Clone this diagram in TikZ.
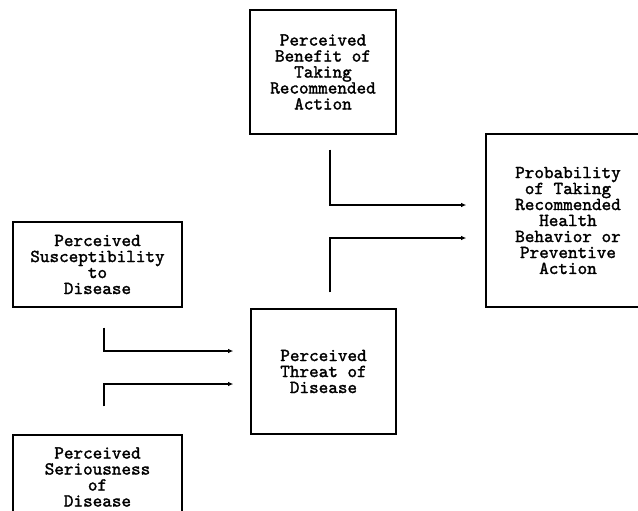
\documentclass[tikz,border=0pt]{standalone}
\usepackage{fontspec}
\setmonofont[AutoFakeBold=1.6]{Latin Modern Mono}
\usetikzlibrary{arrows.meta}

\begin{document}
\begin{tikzpicture}[x=0.02cm, y=-0.02cm, >={Latex[length=3pt,width=2.6pt]},
    box/.style={draw, line width=0.8pt, inner sep=0pt, align=center,
        font=\ttfamily\bfseries\fontsize{10.4}{9.1}\selectfont},
    flow/.style={->, line width=0.6pt}]
        \useasboundingbox (0,0) rectangle (638,510);
        \clip (0,0) rectangle (638,510);
        % ==== BOXES ====
        \node[box, minimum width=2.92cm, minimum height=2.48cm] (benefit) at (323,72)
            {Perceived\\Benefit of\\Taking\\Recommended\\Action};
        \node[box, minimum width=3.28cm, minimum height=3.46cm] (prob) at (568,220.5)
            {Probability\\of Taking\\Recommended\\Health\\Behavior or\\Preventive\\Action};
        \node[box, minimum width=3.38cm, minimum height=1.70cm] (suscept) at (97.5,264.5)
            {Perceived\\Susceptibility\\to\\Disease};
        \node[box, minimum width=2.90cm, minimum height=2.50cm] (threat) at (323.5,371.5)
            {Perceived\\Threat of\\Disease};
        \node[box, minimum width=3.38cm, minimum height=1.68cm] (serious) at (97.5,477)
            {Perceived\\Seriousness\\of\\Disease};

        % ==== ARROWS ====
        \draw[flow] ([shift={(7,15)}]benefit.south) |- ([shift={(-19,-15.5)}]prob.west);
        \draw[flow] ([shift={(6.5,-16)}]threat.north) |- ([shift={(-19,17.5)}]prob.west);
        \draw[flow] ([shift={(6.5,20)}]suscept.south) |- ([shift={(-17,-20.5)}]threat.west);
        \draw[flow] ([shift={(6.5,-28)}]serious.north) |- ([shift={(-17,12.5)}]threat.west);
     \end{tikzpicture}
\end{document}
